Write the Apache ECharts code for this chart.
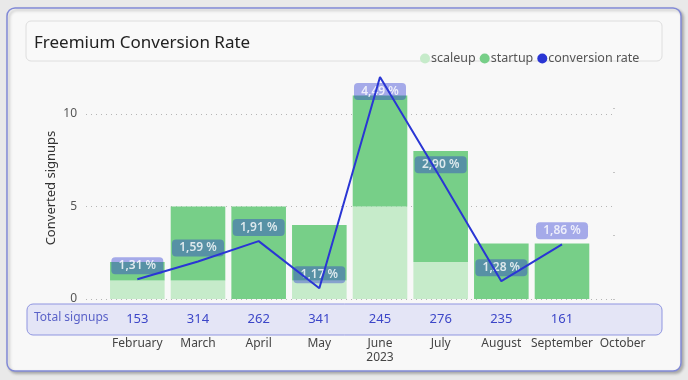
<!DOCTYPE html>
<html>
<head>
<meta charset="utf-8">
<script src="https://cdn.jsdelivr.net/npm/echarts@6/dist/echarts.min.js"></script>
<style>
html,body{margin:0;padding:0;background:#e9e9e9;}
#chart{width:688px;height:380px;}
</style>
</head>
<body>
<div id="chart"></div>
<script>
var months = ['February','March','April','May','June','July','August','September','October'];
var yearLabel = '2023';
var scaleup = [1, 1, 0, 1, 5, 2, 0, 0, null];
var startup = [1, 4, 5, 3, 6, 6, 3, 3, null];
var conversion = [1.31, 1.59, 1.91, 1.17, 4.49, 2.90, 1.28, 1.86, null];
var totalSignups = ['153','314','262','341','245','276','235','161',''];
var yTicks = [0, 5, 10];

var FONT = '"Noto Sans", "Open Sans", sans-serif';
var chart = echarts.init(document.getElementById('chart'));

function fmtPct(v){ return v.toFixed(2).replace('.', ',') + ' %'; }

var labelData = conversion.map(function(v, i){
  if (v == null) return null;
  if (i === 4) {
    return { value: v, label: { position: 'bottom', distance: 6 } };
  }
  return v;
});

var option = {
  backgroundColor: '#e9e9e9',
  textStyle: { fontFamily: FONT },
  graphic: {
    elements: [
      { type: 'rect', z: -20, shape: { x: 7, y: 8, width: 674, height: 363, r: 8 },
        style: { fill: '#f8f8f8', stroke: '#8189d6', lineWidth: 1.5,
                 shadowBlur: 3, shadowOffsetX: 2, shadowOffsetY: 2, shadowColor: 'rgba(0,0,0,0.25)' } },
      { type: 'rect', z: -19, shape: { x: 26, y: 21, width: 636, height: 40, r: 5 },
        style: { fill: '#f9f9f9', stroke: '#dedede', lineWidth: 1 } },
      { type: 'rect', z: -19, shape: { x: 27, y: 304, width: 635, height: 31, r: 6 },
        style: { fill: '#e4e5f6', stroke: '#8f95e0', lineWidth: 1 } },
      { type: 'text', z: 5, left: 34, top: 312,
        style: { text: 'Total signups', fill: '#5a62c8', font: '12px ' + FONT } }
    ]
  },
  title: {
    text: 'Freemium Conversion Rate',
    left: 29, top: 30,
    textStyle: { fontFamily: FONT, fontSize: 17, fontWeight: 'normal', color: '#222' }
  },
  legend: {
    data: ['scaleup', 'startup', 'conversion rate'],
    left: 415, top: 47,
    icon: 'circle', itemWidth: 10, itemHeight: 10, itemGap: 4,
    textStyle: { fontFamily: FONT, fontSize: 12.5, color: '#555', padding: [0, 0, 0, -4] }
  },
  grid: [
    { left: 107, right: 35, top: 77, bottom: 81 },
    { left: 86, right: 73, top: 77, bottom: 81 }
  ],
  xAxis: [
    { type: 'category', gridIndex: 0, data: months,
      axisLine: { show: false }, axisTick: { show: false },
      axisLabel: {
        margin: 2, interval: 0,
        formatter: function(val, idx){
          var s = totalSignups[idx] || ' ';
          var m = '{m|' + val + '}';
          if (val === 'June') m += '\n{m|' + yearLabel + '}';
          return '{s|' + s + '}\n' + m;
        },
        rich: {
          s: { fontFamily: FONT, fontSize: 13, color: '#3c46c8', lineHeight: 36 },
          m: { fontFamily: FONT, fontSize: 12, color: '#444', lineHeight: 14 }
        }
      }
    },
    { type: 'value', gridIndex: 1, show: false, min: 0, max: 1 }
  ],
  yAxis: [
    { type: 'value', gridIndex: 0, min: 0, max: 12, show: false, splitLine: { show: false } },
    { type: 'value', gridIndex: 0, min: 1, max: 'dataMax', show: false, splitLine: { show: false } },
    { type: 'value', gridIndex: 1, min: 0, max: 12, interval: 5, position: 'left',
      name: 'Converted signups', nameLocation: 'middle', nameGap: 28, nameMoveOverlap: false,
      nameTextStyle: { fontFamily: FONT, fontSize: 13, color: '#333' },
      axisLine: { show: false }, axisTick: { show: false },
      axisLabel: { margin: 9, color: '#555', fontSize: 12, showMaxLabel: false },
      splitLine: { show: true, showMaxLine: false, lineStyle: { color: '#b5b5b5', type: [1, 4], width: 1 } }
    },
    { type: 'value', gridIndex: 1, min: 1, max: 4.49, interval: 1, position: 'right',
      axisLine: { show: false }, axisLabel: { show: false }, splitLine: { show: false },
      axisTick: { show: true, inside: true, length: 2, customValues: [1, 2, 3, 4],
                  lineStyle: { color: '#c4c4c4' } }
    }
  ],
  series: [
    { name: 'scaleup', type: 'bar', stack: 'a', xAxisIndex: 0, yAxisIndex: 0,
      data: scaleup, barCategoryGap: '10%', z: 2,
      itemStyle: { color: '#c6ebca' } },
    { name: 'startup', type: 'bar', stack: 'a', xAxisIndex: 0, yAxisIndex: 0,
      data: startup, barCategoryGap: '10%', z: 2,
      itemStyle: { color: '#77cf88' } },
    { name: 'labels', type: 'scatter', xAxisIndex: 0, yAxisIndex: 1,
      data: labelData, symbolSize: 0, z: 3, silent: true,
      label: {
        show: true, position: 'top', distance: 5,
        formatter: function(p){ return fmtPct(p.value); },
        color: '#fff', fontFamily: FONT, fontSize: 12, fontWeight: 600,
        backgroundColor: 'rgba(40,52,210,0.5)', borderRadius: 4,
        padding: [2, 0, 2, 0], width: 52, align: 'center', lineHeight: 13
      },
      labelLayout: { hideOverlap: false }
    },
    { name: 'conversion rate', type: 'line', xAxisIndex: 0, yAxisIndex: 1,
      data: conversion, z: 4, showSymbol: false, symbol: 'none',
      itemStyle: { color: '#2a36d4' },
      lineStyle: { color: '#2a36d4', width: 2 } }
  ]
};
chart.setOption(option);
</script>
</body>
</html>
